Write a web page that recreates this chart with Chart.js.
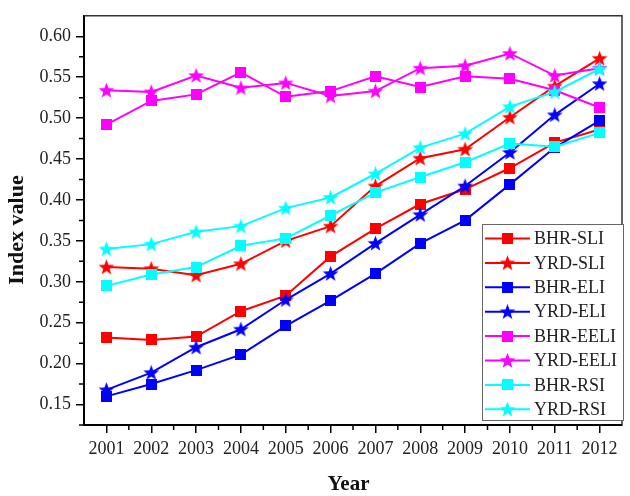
<!DOCTYPE html>
<html>
<head>
<meta charset="utf-8">
<script src="https://cdn.jsdelivr.net/npm/chart.js@4"></script>
<style>
html,body{margin:0;padding:0;background:#fff;}
#wrap{width:630px;height:496px;position:relative;}
</style>
</head>
<body>
<div id="wrap"><canvas id="c" width="630" height="496"></canvas></div>
<script>
const years = [2001,2002,2003,2004,2005,2006,2007,2008,2009,2010,2011,2012];
const yTicks = [0.15,0.20,0.25,0.30,0.35,0.40,0.45,0.50,0.55,0.60];
const seriesNames = ['BHR-SLI','YRD-SLI','BHR-ELI','YRD-ELI','BHR-EELI','YRD-EELI','BHR-RSI','YRD-RSI'];
const bhrSLI  = [0.232,0.229,0.233,0.264,0.283,0.331,0.365,0.395,0.413,0.439,0.470,0.486];
const yrdSLI  = [0.318,0.316,0.308,0.322,0.350,0.368,0.417,0.451,0.462,0.501,0.539,0.573];
const bhrELI  = [0.160,0.175,0.192,0.211,0.246,0.277,0.310,0.347,0.375,0.419,0.464,0.497];
const yrdELI  = [0.168,0.189,0.220,0.242,0.278,0.310,0.347,0.382,0.417,0.458,0.504,0.542];
const bhrEELI = [0.492,0.521,0.529,0.556,0.526,0.533,0.551,0.538,0.551,0.548,0.534,0.513];
const yrdEELI = [0.534,0.532,0.552,0.537,0.543,0.527,0.533,0.561,0.564,0.579,0.552,0.561];
const bhrRSI  = [0.295,0.309,0.318,0.344,0.353,0.381,0.409,0.428,0.446,0.469,0.465,0.482];
const yrdRSI  = [0.340,0.346,0.361,0.368,0.390,0.403,0.432,0.464,0.481,0.514,0.532,0.560];
const xTitle = 'Year';
const yTitle = 'Index value';

const seriesValues = [bhrSLI,yrdSLI,bhrELI,yrdELI,bhrEELI,yrdEELI,bhrRSI,yrdRSI];
const seriesColors = ['#FF0000','#FF0000','#0000FF','#0000FF','#FF00FF','#FF00FF','#00FFFF','#00FFFF'];
const seriesShapes = ['square','star','square','star','square','star','square','star'];

const FONT = '"Liberation Serif","Times New Roman",serif';

function makeMarker(shape, color){
  const cv = document.createElement('canvas');
  const s = shape === 'square' ? 11 : 17;
  cv.width = s; cv.height = s;
  const g = cv.getContext('2d');
  g.fillStyle = color;
  if (shape === 'square') {
    g.fillRect(0,0,s,s);
  } else {
    const cx = s/2, cy = s/2 + 0.6, ro = 8.3, ri = 3.4;
    g.beginPath();
    for (let k=0;k<10;k++){
      const r = k%2===0 ? ro : ri;
      const a = -Math.PI/2 + k*Math.PI/5;
      const px = cx + r*Math.cos(a), py = cy + r*Math.sin(a);
      if (k===0) g.moveTo(px,py); else g.lineTo(px,py);
    }
    g.closePath();
    g.fill();
  }
  return cv;
}

const markers = seriesNames.map((n,i)=>makeMarker(seriesShapes[i], seriesColors[i]));

const datasets = seriesNames.map((name,i)=>({
  label: name,
  data: years.map((yr,j)=>({x: yr, y: seriesValues[i][j]})),
  borderColor: seriesColors[i],
  backgroundColor: seriesColors[i],
  borderWidth: 2,
  pointStyle: markers[i],
  pointRadius: 6,
  pointHoverRadius: 6,
  tension: 0,
  order: seriesNames.length - i
}));

const framePlugin = {
  id: 'framePlugin',
  afterDraw(chart){
    const ctx = chart.ctx;
    const a = chart.chartArea;
    const xs = chart.scales.x, ys = chart.scales.y;
    ctx.save();
    // top and right frame
    ctx.strokeStyle = '#333';
    ctx.lineWidth = 1.5;
    ctx.beginPath();
    ctx.moveTo(a.left, a.top);
    ctx.lineTo(a.right, a.top);
    ctx.lineTo(a.right, a.bottom);
    ctx.stroke();
    // minor ticks
    ctx.strokeStyle = '#000';
    ctx.lineWidth = 1.5;
    ctx.beginPath();
    for (let k=0;k<years.length-1;k++){
      const px = xs.getPixelForValue(years[k]+0.5);
      ctx.moveTo(px, a.bottom);
      ctx.lineTo(px, a.bottom+5);
    }
    for (let k=0;k<yTicks.length;k++){
      const v = yTicks[k]+0.025;
      if (v < ys.max) {
        const py = ys.getPixelForValue(v);
        ctx.moveTo(a.left, py);
        ctx.lineTo(a.left-5, py);
      }
    }
    const pyLow = ys.getPixelForValue(yTicks[0]-0.025+0.00001);
    if (pyLow <= a.bottom) { ctx.moveTo(a.left, pyLow); ctx.lineTo(a.left-5, pyLow); }
    ctx.stroke();

    // axis titles
    ctx.fillStyle = '#111';
    ctx.font = 'bold 21px ' + FONT;
    ctx.textAlign = 'center';
    ctx.textBaseline = 'alphabetic';
    ctx.fillText(xTitle, 348.5, 490);
    ctx.save();
    ctx.translate(23, 230);
    ctx.rotate(-Math.PI/2);
    ctx.font = 'bold 22px ' + FONT;
    ctx.fillText(yTitle, 0, 0);
    ctx.restore();

    // legend
    const bx = 482, by = 224, bw = 141, bh = 196;
    ctx.fillStyle = '#fff';
    ctx.fillRect(bx, by, bw, bh);
    ctx.strokeStyle = '#666';
    ctx.lineWidth = 1;
    ctx.strokeRect(bx+0.5, by+0.5, bw, bh);
    ctx.font = '18px ' + FONT;
    ctx.textBaseline = 'middle';
    ctx.textAlign = 'left';
    for (let i=0;i<seriesNames.length;i++){
      const y = 238.5 + i*24.4;
      ctx.strokeStyle = seriesColors[i];
      ctx.lineWidth = 2;
      ctx.beginPath();
      ctx.moveTo(485, y);
      ctx.lineTo(530, y);
      ctx.stroke();
      const m = markers[i];
      ctx.drawImage(m, 507.5 - m.width/2, y - m.height/2);
      ctx.fillStyle = '#222';
      ctx.fillText(seriesNames[i], 534, y+1);
    }
    ctx.restore();
  }
};

new Chart(document.getElementById('c'), {
  type: 'line',
  data: { datasets },
  options: {
    responsive: false,
    animation: false,
    events: [],
    layout: { padding: { top: 8, right: 2, left: 0, bottom: 0 } },
    plugins: { legend: { display: false }, tooltip: { enabled: false } },
    scales: {
      x: {
        type: 'linear',
        min: 2000.5,
        max: 2012.5,
        afterBuildTicks: s => { s.ticks = years.map(v=>({value:v})); },
        afterFit: s => { s.height = 71; },
        ticks: {
          color: '#222',
          font: { family: FONT, size: 18 },
          padding: 5,
          maxRotation: 0,
          autoSkip: false,
          callback: v => String(v)
        },
        grid: { drawOnChartArea: false, drawTicks: true, tickLength: 8, color: '#000', lineWidth: 1.5 },
        border: { display: true, color: '#000', width: 2 },
        title: { display: false }
      },
      y: {
        min: 0.125,
        max: 0.625,
        afterBuildTicks: s => { s.ticks = yTicks.map(v=>({value:v})); },
        afterFit: s => { s.width = 84; },
        ticks: {
          color: '#222',
          font: { family: FONT, size: 18 },
          padding: 5,
          autoSkip: false,
          callback: v => Number(v).toFixed(2)
        },
        grid: { drawOnChartArea: false, drawTicks: true, tickLength: 8, color: '#000', lineWidth: 1.5 },
        border: { display: true, color: '#000', width: 2 },
        title: { display: false }
      }
    }
  },
  plugins: [framePlugin]
});
</script>
</body>
</html>
